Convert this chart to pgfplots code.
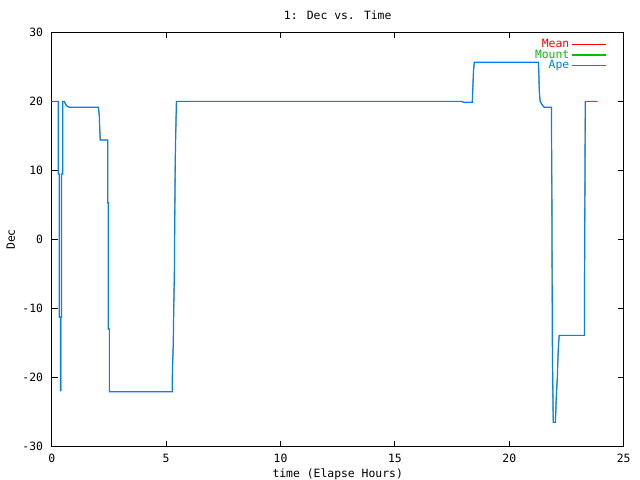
\documentclass[border=0pt]{standalone}
\usepackage{fontspec}
\setmainfont{DejaVu Sans Mono}
\usepackage{pgfplots}
\usepackage{pgfplotstable}
\pgfplotsset{compat=1.18}

\definecolor{meanred}{RGB}{255,0,0}
\definecolor{mountgreen}{RGB}{0,192,0}
\definecolor{apeblue}{RGB}{0,128,255}

% Dec track (hours, degrees)
\pgfplotstableread{
x y
0 20.0
0.29 20.0
0.29 9.48
0.33 9.48
0.33 -11.23
0.38 -11.23
0.38 -21.9
0.40 -21.9
0.40 -11.23
0.43 -11.23
0.43 9.48
0.48 9.48
0.48 20.0
0.55 20.0
0.62 19.5
0.68 19.3
0.77 19.14
2.04 19.14
2.08 17.92
2.12 14.4
2.45 14.4
2.45 5.32
2.47 5.32
2.47 -12.97
2.52 -12.97
2.52 -22.05
5.27 -22.05
5.27 -19.88
5.31 -15.43
5.36 -4.86
5.40 11.6
5.45 20.0
17.96 20.0
17.98 19.86
18.38 19.86
18.40 21.31
18.43 24.15
18.47 25.66
21.27 25.66
21.29 24.3
21.31 21.4
21.35 20.0
21.42 19.6
21.48 19.3
21.53 19.14
21.84 19.14
21.86 7.78
21.88 -15.04
21.92 -26.48
22.01 -26.48
22.03 -25.32
22.05 -23.0
22.10 -19.92
22.14 -15.86
22.18 -13.88
23.28 -13.88
23.30 2.96
23.32 20.0
23.85 20.0
}\dectable

\begin{document}
\fontsize{11.4bp}{13bp}\selectfont
\begin{tikzpicture}
\useasboundingbox (0,0) rectangle (640bp,480bp);
\begin{axis}[
    at={(51.7bp,33.3bp)}, anchor=south west,
    scale only axis,
    width=572bp, height=414.4bp,
    xmin=0, xmax=25, ymin=-30, ymax=30,
    xtick={0,5,...,25},
    ytick={-30,-20,...,30},
    tick align=inside,
    major tick length=6bp,
    axis line style={line width=1bp},
    every tick/.style={black, line width=1bp},
    /pgf/number format/assume math mode=true,
    xticklabel style={anchor=center, yshift=-11.5bp},
    yticklabel style={anchor=east, inner sep=0pt, xshift=-8.5bp},
    title={1: Dec vs. Time},
    title style={at={(axis description cs:0.5,1)}, anchor=center, yshift=11bp},
    xlabel={time (Elapse Hours)},
    xlabel style={at={(axis description cs:0.5,0)}, anchor=center, yshift=-28bp},
    ylabel={Dec},
    ylabel style={at={([xshift=-41bp]axis description cs:0,0.5)}, anchor=center},
    legend style={draw=none, fill=none, at={(axis description cs:1,1)}, anchor=north east,
        xshift=-14bp, yshift=-3bp, row sep=-3.5bp, font=\fontsize{11.4bp}{13bp}\selectfont},
    legend cell align=right,
    legend plot pos=right,
    legend image code/.code={\draw[#1, line width=1.2bp] (0bp,0bp) -- (34bp,0bp);},
]
\addplot[meanred, line width=0.4bp] table {\dectable};
\addlegendentry{\textcolor{meanred}{Mean}}
\addplot[mountgreen, line width=0.4bp] table {\dectable};
\addlegendentry{\textcolor{mountgreen}{Mount}}
\addplot[apeblue, line width=1.2bp] table {\dectable};
\addlegendentry{\textcolor{apeblue}{Ape}}
\end{axis}
\end{tikzpicture}
\end{document}
